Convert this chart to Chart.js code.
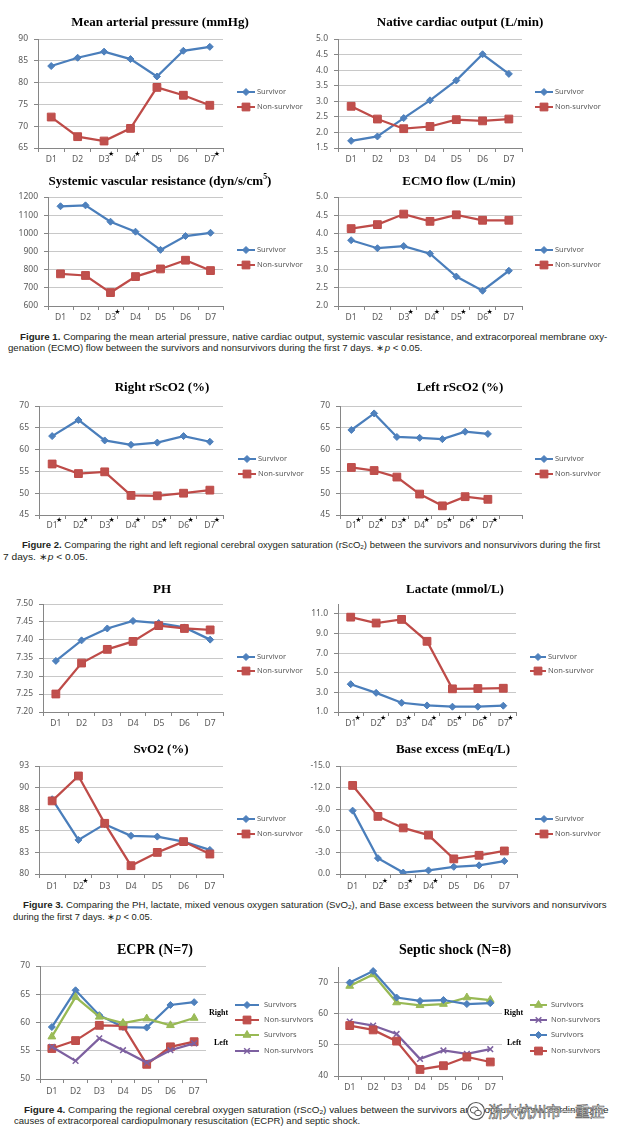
<!DOCTYPE html>
<html>
<head>
<meta charset="utf-8">
<script src="https://cdn.jsdelivr.net/npm/chart.js@4.4.1/dist/chart.umd.min.js"></script>
<style>
  body { margin: 0; background: #fff; width: 617px; height: 1137px; position: relative; overflow: hidden; }
  canvas { position: absolute; }
  .cap { position: absolute; white-space: nowrap; font-family: "Liberation Sans", Arial, sans-serif; font-size: 9px;
         line-height: 12px; color: #231f20; transform-origin: 0 50%; }
  .cap sub { font-size: 6px; vertical-align: -1px; }
  .wm { position: absolute; left: 466px; top: 1101px; white-space: nowrap; font-family: "Noto Sans CJK SC"; font-size: 15px;
        line-height: 20px; color: #fff; -webkit-text-stroke: 0.6px #555; letter-spacing: -0.5px;
        text-shadow: 0 0 2px #fff; }
  .wm svg { vertical-align: -4px; margin-right: 2px; }
</style>
</head>
<body>

<div class="cap" data-w="587" style="left:20px;top:331px"><b>Figure 1.</b> Comparing the mean arterial pressure, native cardiac output, systemic vascular resistance, and extracorporeal membrane oxy-</div>
<div class="cap" data-w="414" style="left:8px;top:342px">genation (ECMO) flow between the survivors and nonsurvivors during the first 7 days. ∗<i>p</i> &lt; 0.05.</div>

<div class="cap" data-w="578" style="left:22px;top:539px"><b>Figure 2.</b> Comparing the right and left regional cerebral oxygen saturation (rScO<sub>2</sub>) between the survivors and nonsurvivors during the first</div>
<div class="cap" data-w="85" style="left:3px;top:551px">7 days. ∗<i>p</i> &lt; 0.05.</div>

<div class="cap" data-w="584" style="left:23px;top:899px"><b>Figure 3.</b> Comparing the PH, lactate, mixed venous oxygen saturation (SvO<sub>2</sub>), and Base excess between the survivors and nonsurvivors</div>
<div class="cap" data-w="139" style="left:13px;top:911px">during the first 7 days. ∗<i>p</i> &lt; 0.05.</div>

<div class="cap" data-w="585" style="left:24px;top:1104px"><b>Figure 4.</b> Comparing the regional cerebral oxygen saturation (rScO<sub>2</sub>) values between the survivors and nonsurvivors according to the</div>
<div class="cap" data-w="346" style="left:14px;top:1115px">causes of extracorporeal cardiopulmonary resuscitation (ECPR) and septic shock.</div>

<div class="wm"><svg width="20" height="20"><circle cx="10" cy="10" r="8.5" fill="#fff" stroke="#555" stroke-width="1.1"/><ellipse cx="8.3" cy="9" rx="4" ry="3.2" fill="none" stroke="#555"/><ellipse cx="12" cy="12" rx="3.4" ry="2.7" fill="#fff" stroke="#555"/></svg>浙大杭州市一重症</div>

<script>
// ---- data ----
const days = ['D1', 'D2', 'D3', 'D4', 'D5', 'D6', 'D7'];
const daysPadded = ['D1', 'D2', 'D3', 'D4', 'D5', 'D6', 'D7', ''];
const allDays = [0, 1, 2, 3, 4, 5, 6];

const mapSurv = [83.8, 85.7, 87.1, 85.4, 81.4, 87.3, 88.2];
const mapNon = [72.1, 67.6, 66.6, 69.5, 78.9, 77.1, 74.8];
const mapTicks = [65, 70, 75, 80, 85, 90];
const mapStars = [2, 3, 6];

const coSurv = [1.73, 1.87, 2.46, 3.03, 3.67, 4.51, 3.88];
const coNon = [2.84, 2.43, 2.12, 2.19, 2.41, 2.37, 2.43];
const coTicks = [1.5, 2.0, 2.5, 3.0, 3.5, 4.0, 4.5, 5.0];

const svrSurv = [1149, 1154, 1064, 1009, 909, 985, 1003];
const svrNon = [777, 768, 674, 762, 804, 852, 795];
const svrTicks = [600, 700, 800, 900, 1000, 1100, 1200];
const svrStars = [2];

const ecmoSurv = [3.81, 3.59, 3.65, 3.44, 2.81, 2.42, 2.97];
const ecmoNon = [4.13, 4.24, 4.53, 4.33, 4.51, 4.36, 4.36];
const ecmoTicks = [2.0, 2.5, 3.0, 3.5, 4.0, 4.5, 5.0];
const ecmoStars = [2, 3, 4, 5];

const rightSurv = [63.1, 66.8, 62.1, 61.1, 61.6, 63.1, 61.8];
const rightNon = [56.7, 54.5, 54.9, 49.5, 49.4, 50.0, 50.7];
const leftSurv = [64.5, 68.3, 62.9, 62.7, 62.4, 64.1, 63.6, null];
const leftNon = [55.9, 55.2, 53.7, 49.8, 47.1, 49.2, 48.6, null];
const rsTicks = [45, 50, 55, 60, 65, 70];

const phSurv = [7.342, 7.399, 7.432, 7.453, 7.447, 7.435, 7.401];
const phNon = [7.250, 7.336, 7.374, 7.396, 7.440, 7.432, 7.428];
const phTicks = [7.20, 7.25, 7.30, 7.35, 7.40, 7.45, 7.50];

const lacSurv = [3.83, 2.95, 1.94, 1.67, 1.54, 1.54, 1.64];
const lacNon = [10.66, 10.06, 10.43, 8.20, 3.36, 3.39, 3.42];
const lacTicks = [1, 3, 5, 7, 9, 11];

const svoSurv = [89.0, 84.1, 86.0, 84.6, 84.5, 83.9, 82.9];
const svoNon = [88.8, 91.8, 86.1, 81.0, 82.6, 83.9, 82.4];
const svoTicks = [80, 82.6, 85.2, 87.8, 90.4, 93];
const svoStars = [1];

const beSurv = [-8.8, -2.2, -0.2, -0.5, -1.0, -1.2, -1.8];
const beNon = [-12.3, -8.0, -6.4, -5.4, -2.1, -2.6, -3.2];
const beTicks = [-15, -12, -9, -6, -3, 0];
const beStars = [1, 2, 3];

const ecprRightSurv = [59.2, 65.7, 61.3, 59.2, 59.1, 63.1, 63.6];
const ecprRightNon = [55.4, 56.8, 59.5, 59.4, 52.6, 55.7, 56.6];
const ecprLeftSurv = [57.5, 64.5, 61.0, 59.9, 60.7, 59.5, 60.8];
const ecprLeftNon = [55.7, 53.2, 57.2, 55.1, 52.9, 55.1, 56.3];
const ecprTicks = [50, 55, 60, 65, 70];

const sepRightSurv = [68.9, 72.6, 63.6, 62.7, 63.1, 65.2, 64.4];
const sepRightNon = [57.5, 56.2, 53.5, 45.5, 48.2, 47.1, 48.6];
const sepLeftSurv = [70.0, 73.7, 65.2, 64.1, 64.4, 63.1, 63.4];
const sepLeftNon = [56.2, 54.8, 51.2, 42.1, 43.3, 46.1, 44.5];
const sepTicks = [40, 50, 60, 70];

// ---- styles ----
const SURV = { borderColor: '#4a7ebb', pointBackgroundColor: '#4f81bd', pointBorderColor: '#4a7ebb', pointStyle: 'rectRot', pointRadius: 3.5 };
const NON = { borderColor: '#be4b48', pointBackgroundColor: '#c0504d', pointBorderColor: '#be4b48', pointStyle: 'rect', pointRadius: 5.5 };
const GREEN = { borderColor: '#98b954', pointBackgroundColor: '#9bbb59', pointBorderColor: '#98b954', pointStyle: 'triangle', pointRadius: 4.5 };
const PURPLE = { borderColor: '#7d60a0', pointBackgroundColor: '#8064a2', pointBorderColor: '#7d60a0', pointStyle: 'crossRot', pointRadius: 4, pointBorderWidth: 1.5 };

const AXIS = '#868686';
const GRID = '#c8c8c8';
const TICK_FONT = { family: '"Noto Sans", "DejaVu Sans", sans-serif', size: 8.5 };

function marker(ctx, ds, x, y) {
  const r = ds.pointRadius;
  ctx.beginPath();
  if (ds.pointStyle === 'rect') {
    const s = r * Math.SQRT1_2;
    ctx.rect(x - s, y - s, 2 * s, 2 * s);
  } else if (ds.pointStyle === 'rectRot') {
    ctx.moveTo(x, y - r); ctx.lineTo(x + r, y); ctx.lineTo(x, y + r); ctx.lineTo(x - r, y); ctx.closePath();
  } else if (ds.pointStyle === 'triangle') {
    const h = r * 1.5, w = r * Math.sqrt(3);
    ctx.moveTo(x, y - r); ctx.lineTo(x + w / 2, y + h - r); ctx.lineTo(x - w / 2, y + h - r); ctx.closePath();
  } else {
    const d = r * Math.SQRT1_2;
    ctx.moveTo(x - d, y - d); ctx.lineTo(x + d, y + d); ctx.moveTo(x + d, y - d); ctx.lineTo(x - d, y + d);
    ctx.lineWidth = ds.pointBorderWidth || 1; ctx.strokeStyle = ds.pointBorderColor; ctx.stroke();
    return;
  }
  ctx.fillStyle = ds.pointBackgroundColor; ctx.fill();
  ctx.lineWidth = 1; ctx.strokeStyle = ds.pointBorderColor; ctx.stroke();
}

function drawTitle(ctx, parts, cx, cy, size) {
  const norm = `bold ${size}px "Liberation Serif", "Times New Roman", serif`;
  const sup = `bold ${size * 0.6}px "Liberation Serif", "Times New Roman", serif`;
  let total = 0;
  parts.forEach(p => { ctx.font = p[1] ? sup : norm; total += ctx.measureText(p[0]).width; });
  let x = cx - total / 2;
  ctx.fillStyle = '#000'; ctx.textAlign = 'left'; ctx.textBaseline = 'middle';
  parts.forEach(p => {
    ctx.font = p[1] ? sup : norm;
    ctx.fillText(p[0], x, p[1] ? cy - size * 0.35 : cy);
    x += ctx.measureText(p[0]).width;
  });
}

function panel(p) {
  const [bx, by, bw, bh] = p.box;
  const [pl, pt, pr, pb] = p.plot;
  const c = document.createElement('canvas');
  c.width = bw; c.height = bh;
  c.style.left = bx + 'px'; c.style.top = by + 'px';
  document.body.appendChild(c);

  const decor = {
    id: 'decor',
    afterDraw(chart) {
      const ctx = chart.ctx;
      ctx.save();
      drawTitle(ctx, p.title, p.titleAt[0] - bx, p.titleAt[1] - by, p.titleSize || 13);

      const xs = chart.scales.x;
      ctx.fillStyle = '#000'; ctx.textAlign = 'center'; ctx.textBaseline = 'middle';
      ctx.font = '7px "DejaVu Sans"';
      (p.stars || []).forEach(i => ctx.fillText('★', xs.getPixelForValue(i) + 7, p.labelY - 6 - by));

      const lg = p.legend;
      chart.data.datasets.forEach((ds, i) => {
        const y = lg.ys[i] - by, x0 = lg.x0 - bx, x1 = lg.x1 - bx;
        ctx.beginPath(); ctx.moveTo(x0, y); ctx.lineTo(x1, y);
        ctx.strokeStyle = ds.borderColor; ctx.lineWidth = 2; ctx.stroke();
        marker(ctx, ds, (x0 + x1) / 2, y);
        ctx.fillStyle = '#595959'; ctx.textAlign = 'left'; ctx.textBaseline = 'middle';
        ctx.font = (lg.size || 7.5) + 'px "Noto Sans", "DejaVu Sans", sans-serif';
        ctx.fillText(ds.label, lg.tx - bx, y);
      });

      (p.notes || []).forEach(n => {
        ctx.fillStyle = '#000'; ctx.textAlign = 'left'; ctx.textBaseline = 'middle';
        ctx.font = 'bold 8px "Liberation Serif", serif';
        ctx.fillText(n.t, n.x - bx, n.y - by);
      });
      ctx.restore();
    }
  };

  new Chart(c, {
    type: 'line',
    data: {
      labels: p.labels || days,
      datasets: p.series.map((s, i) => Object.assign({
        label: s.label,
        data: s.data,
        borderWidth: 2.25,
        tension: 0,
        pointBorderWidth: 1,
        order: p.series.length - i
      }, s.style))
    },
    options: {
      responsive: false,
      animation: false,
      devicePixelRatio: 1,
      events: [],
      layout: { padding: { left: 0, top: pt - by, right: bx + bw - pr, bottom: 0 } },
      plugins: { legend: { display: false }, tooltip: { enabled: false } },
      scales: {
        x: {
          offset: true,
          grid: { offset: true, drawOnChartArea: false, drawTicks: true, tickLength: 4, color: AXIS },
          border: { display: true, color: AXIS, width: 1 },
          ticks: { font: TICK_FONT, color: '#595959', padding: p.labelY - pb - 4 - 5.1, autoSkip: false, maxRotation: 0 },
          afterFit(s) { s.height = by + bh - pb; }
        },
        y: {
          min: p.min, max: p.max, reverse: !!p.reverse,
          afterBuildTicks(s) { s.ticks = p.ticks.map(v => ({ value: v })); },
          grid: { color: GRID, tickColor: AXIS, tickLength: 4, lineWidth: 1 },
          border: { display: true, color: AXIS, width: 1 },
          ticks: { font: TICK_FONT, color: '#595959', padding: 6, autoSkip: false,
                   callback: v => Number(v).toFixed(p.dec) },
          afterFit(s) { s.width = pl - bx; }
        }
      }
    },
    plugins: [decor]
  });
}

const pair = (a, b) => [
  { label: 'Survivor', data: a, style: SURV },
  { label: 'Non-survivor', data: b, style: NON }
];

panel({ box: [0, 5, 305, 165], plot: [38, 39, 223, 148], labelY: 160,
  title: [['Mean arterial pressure (mmHg)']], titleAt: [160, 23],
  legend: { x0: 237, x1: 255, tx: 257, ys: [92, 107] },
  series: pair(mapSurv, mapNon), min: 65, max: 90, ticks: mapTicks, dec: 0, stars: mapStars });

panel({ box: [305, 5, 312, 165], plot: [338, 39, 522, 148], labelY: 160,
  title: [['Native cardiac output (L/min)']], titleAt: [460, 23],
  legend: { x0: 535, x1: 553, tx: 555, ys: [92, 107] },
  series: pair(coSurv, coNon), min: 1.5, max: 5, ticks: coTicks, dec: 1 });

panel({ box: [0, 170, 305, 162], plot: [48, 197, 223, 306], labelY: 318,
  title: [['Systemic vascular resistance (dyn/s/cm'], ['5', 1], [')']], titleAt: [160, 182],
  legend: { x0: 237, x1: 255, tx: 257, ys: [250, 265] },
  series: pair(svrSurv, svrNon), min: 600, max: 1200, ticks: svrTicks, dec: 0, stars: svrStars });

panel({ box: [305, 170, 312, 162], plot: [338, 197, 522, 306], labelY: 318,
  title: [['ECMO flow (L/min)']], titleAt: [459, 182],
  legend: { x0: 535, x1: 553, tx: 555, ys: [250, 265] },
  series: pair(ecmoSurv, ecmoNon), min: 2, max: 5, ticks: ecmoTicks, dec: 1, stars: ecmoStars });

panel({ box: [0, 372, 305, 160], plot: [39, 406, 223, 515], labelY: 526,
  title: [['Right rScO2 (%)']], titleAt: [162, 388],
  legend: { x0: 238, x1: 256, tx: 258, ys: [459, 474] },
  series: pair(rightSurv, rightNon), min: 45, max: 70, ticks: rsTicks, dec: 0, stars: allDays });

panel({ box: [305, 372, 312, 160], plot: [340, 406, 522, 515], labelY: 526, labels: daysPadded,
  title: [['Left rScO2 (%)']], titleAt: [460, 388],
  legend: { x0: 535, x1: 553, tx: 555, ys: [459, 474] },
  series: pair(leftSurv, leftNon), min: 45, max: 70, ticks: rsTicks, dec: 0, stars: allDays });

panel({ box: [0, 578, 305, 155], plot: [43, 604, 223, 712], labelY: 724,
  title: [['PH']], titleAt: [162, 590],
  legend: { x0: 237, x1: 255, tx: 257, ys: [657, 671] },
  series: pair(phSurv, phNon), min: 7.2, max: 7.5, ticks: phTicks, dec: 2 });

panel({ box: [305, 578, 312, 155], plot: [338, 604, 516, 712], labelY: 724,
  title: [['Lactate (mmol/L)']], titleAt: [455, 590],
  legend: { x0: 530, x1: 546, tx: 548, ys: [657, 671] },
  series: pair(lacSurv, lacNon), min: 1, max: 12, ticks: lacTicks, dec: 1, stars: allDays });

panel({ box: [0, 738, 305, 155], plot: [39, 766, 223, 874], labelY: 887,
  title: [['SvO2 (%)']], titleAt: [161, 750],
  legend: { x0: 237, x1: 255, tx: 257, ys: [819, 834] },
  series: pair(svoSurv, svoNon), min: 80, max: 93, ticks: svoTicks, dec: 0, stars: svoStars });

panel({ box: [305, 738, 312, 155], plot: [340, 766, 517, 874], labelY: 887,
  title: [['Base excess (mEq/L)']], titleAt: [453, 750],
  legend: { x0: 535, x1: 553, tx: 555, ys: [819, 834] },
  series: pair(beSurv, beNon), min: -15, max: 0, reverse: true, ticks: beTicks, dec: 1, stars: beStars });

panel({ box: [0, 930, 318, 172], plot: [40, 966, 206, 1079], labelY: 1092,
  title: [['ECPR (N=7)']], titleAt: [155, 950], titleSize: 14,
  legend: { x0: 235, x1: 259, tx: 264, ys: [1005, 1020, 1035, 1051] },
  notes: [{ t: 'Right', x: 209, y: 1013 }, { t: 'Left', x: 214, y: 1043 }],
  series: [
    { label: 'Survivors', data: ecprRightSurv, style: SURV },
    { label: 'Non-survivors', data: ecprRightNon, style: NON },
    { label: 'Survivors', data: ecprLeftSurv, style: GREEN },
    { label: 'Non-survivors', data: ecprLeftNon, style: PURPLE }
  ], min: 50, max: 70, ticks: ecprTicks, dec: 0 });

panel({ box: [305, 930, 312, 172], plot: [338, 967, 502, 1076], labelY: 1088,
  title: [['Septic shock (N=8)']], titleAt: [455, 950], titleSize: 14,
  legend: { x0: 530, x1: 547, tx: 551, ys: [1005, 1020, 1035, 1051] },
  notes: [{ t: 'Right', x: 504, y: 1013 }, { t: 'Left', x: 507, y: 1043 }],
  series: [
    { label: 'Survivors', data: sepRightSurv, style: GREEN },
    { label: 'Non-survivors', data: sepRightNon, style: PURPLE },
    { label: 'Survivors', data: sepLeftSurv, style: SURV },
    { label: 'Non-survivors', data: sepLeftNon, style: NON }
  ], min: 40, max: 75, ticks: sepTicks, dec: 0 });

// stretch caption lines to the measured widths of the reference
document.querySelectorAll('.cap').forEach(el => {
  const w = +el.dataset.w;
  el.style.transform = `scaleX(${w / el.offsetWidth})`;
});
</script>
</body>
</html>
